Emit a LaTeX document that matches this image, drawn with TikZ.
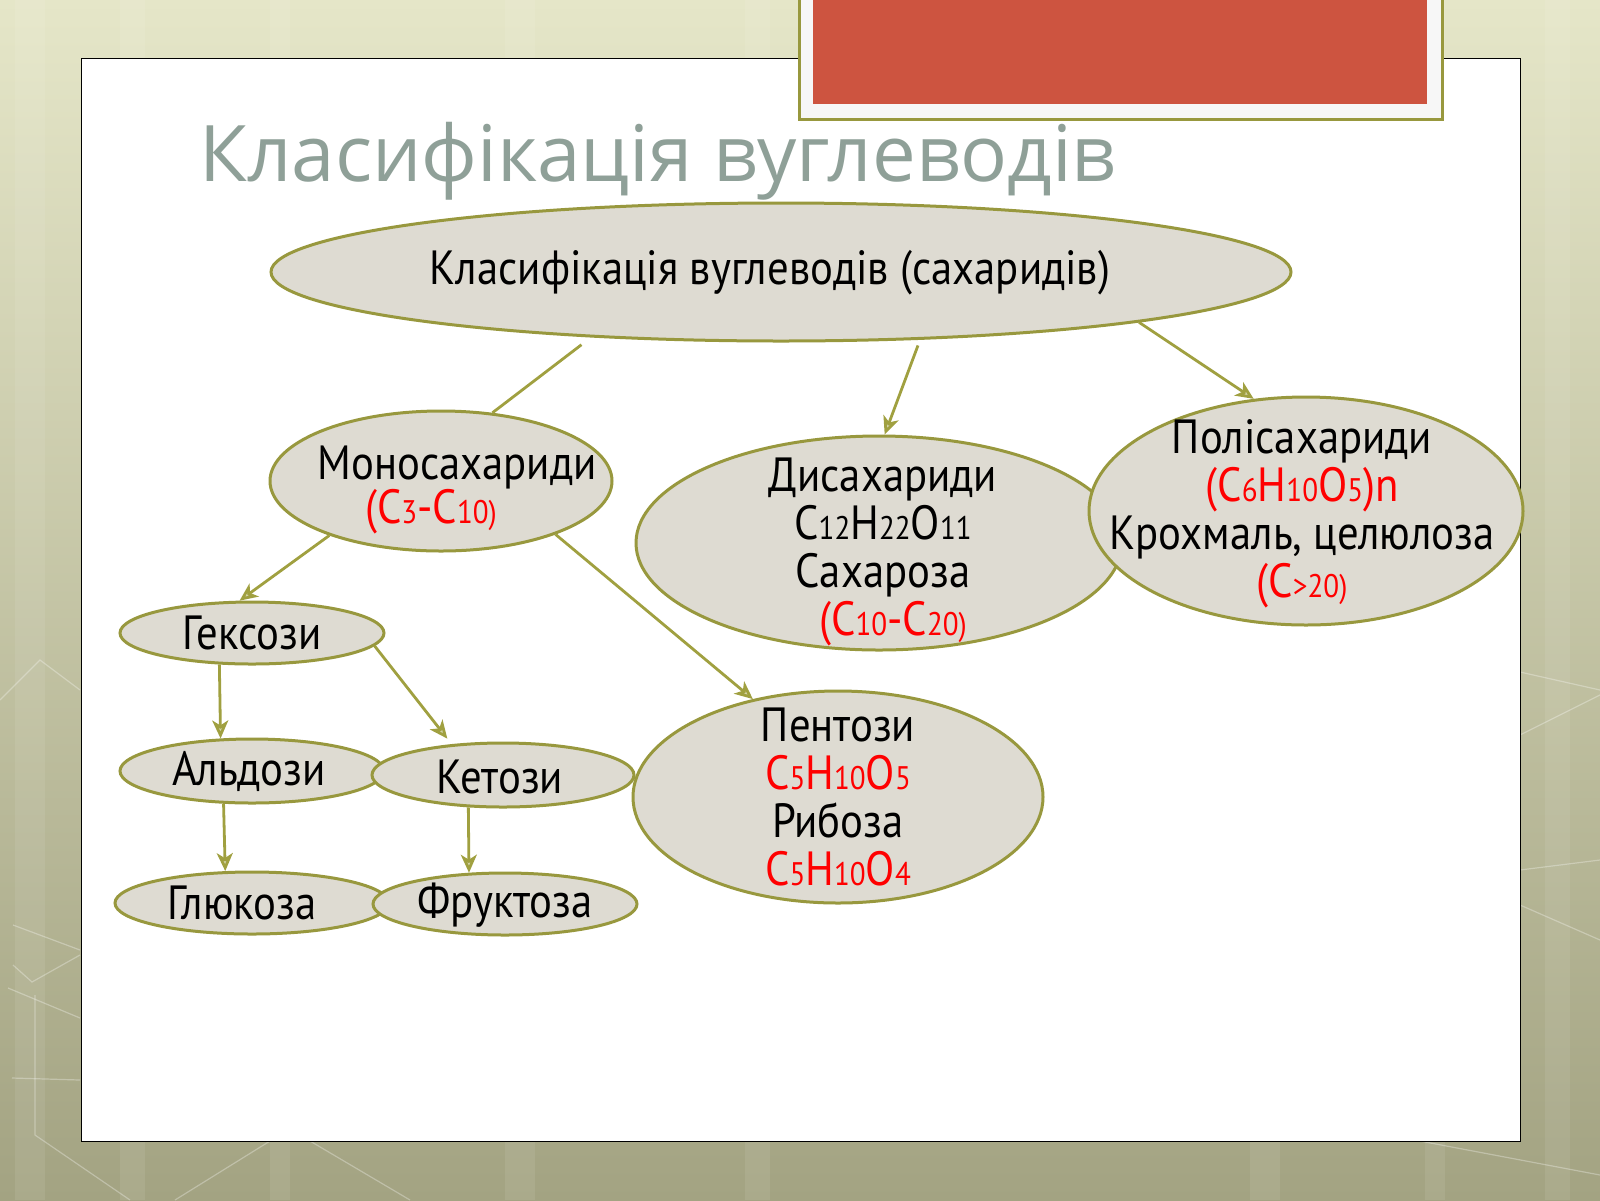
\documentclass[tikz,border=0pt]{standalone}
\usepackage{fontspec}
\setmainfont{PT Sans}[FakeStretch=0.89]
\newfontfamily\titlefont{Open Sans}
\usetikzlibrary{shapes.geometric,arrows.meta}

\definecolor{oliveline}{RGB}{152,152,62}
\definecolor{arrowline}{RGB}{160,160,64}
\definecolor{blobfill}{RGB}{222,219,210}
\definecolor{titlegray}{RGB}{143,160,152}
\definecolor{slidered}{RGB}{205,84,64}
\definecolor{bgtop}{RGB}{229,230,200}
\definecolor{bgmid}{RGB}{196,197,164}
\definecolor{bgbot}{RGB}{163,163,130}

\newcommand\sm[1]{\scalebox{0.68}{#1}}

\tikzset{
  blob/.style={ellipse, draw=oliveline, line width=1.5pt, fill=blobfill, inner sep=0pt},
  txt/.style={align=center, inner sep=0pt, font=\fontsize{24}{24}\selectfont},
  conn/.style={draw=arrowline, line width=1.4pt},
  link/.style={conn, -{Stealth[length=9pt,width=8pt,inset=2.5pt,fill=arrowline!45!white]}},
}

\begin{document}
\begin{tikzpicture}[x=0.5pt,y=-0.5pt]
\useasboundingbox (0,0) rectangle (1600,1200);
% background
\shade[top color=bgtop, middle color=bgmid, bottom color=bgbot] (0,0) rectangle (1600,1200);
\foreach \xs/\w in {15/30,120/25,270/20,505/30,745/25,1250/30,1425/20,1545/25}
  \fill[white,opacity=0.08] (\xs,0) rectangle ++(\w,1200);
\draw[white,opacity=0.3,line width=0.6pt] (13,925) -- (80,950);
\draw[white,opacity=0.3,line width=0.6pt] (13,965) -- (32,982) -- (80,955);
\draw[white,opacity=0.3,line width=0.6pt] (8,988) -- (80,1018);
\draw[white,opacity=0.3,line width=0.6pt] (35,995) -- (35,1135) -- (130,1200);
\draw[white,opacity=0.3,line width=0.6pt] (12,1078) -- (80,1080);
\draw[white,opacity=0.3,line width=0.6pt] (0,700) -- (40,660) -- (80,690);
\draw[white,opacity=0.3,line width=0.6pt] (270,1141) -- (175,1200);
\draw[white,opacity=0.3,line width=0.6pt] (310,1141) -- (410,1200);
\draw[white,opacity=0.3,line width=0.6pt] (1520,672) -- (1600,690);
\draw[white,opacity=0.3,line width=0.6pt] (1520,735) -- (1600,695);
\draw[white,opacity=0.3,line width=0.6pt] (1520,870) -- (1600,860);
\draw[white,opacity=0.3,line width=0.6pt] (1520,905) -- (1600,940);
\draw[white,opacity=0.3,line width=0.6pt] (1420,1141) -- (1600,1175);

% slide
\draw[black, line width=0.5pt, fill=white] (81,58) rectangle (1520,1141);
\draw[oliveline, line width=1.5pt, fill=white!94!gray] (799,-10) rectangle (1442,119);
\fill[slidered] (813,-10) rectangle (1427,104);

\node[anchor=base west, inner sep=0pt, text=titlegray,
  font=\titlefont\fontsize{39}{39}\selectfont] (title) at (199,181) {Класифікація вуглеводів};

% ellipses
\node[blob, minimum width=510pt, minimum height=69pt] (top) at (781,272) {};
\node[blob, minimum width=171pt, minimum height=70pt] (mono) at (441,481) {};
\node[blob, minimum width=243pt, minimum height=107pt] (di) at (879,543) {};
\node[blob, minimum width=217pt, minimum height=114pt] (poly) at (1306,511) {};
\node[blob, minimum width=132pt, minimum height=31pt] (hex) at (252,633) {};
\node[blob, minimum width=205pt, minimum height=106pt] (pento) at (838,797) {};
\node[blob, minimum width=132pt, minimum height=32pt] (ald) at (252,771) {};
\node[blob, minimum width=131pt, minimum height=32pt] (ket) at (503,775) {};
\node[blob, minimum width=137pt, minimum height=31pt] (glu) at (252,903) {};
\node[blob, minimum width=132pt, minimum height=31pt] (fru) at (505,904) {};

% texts
\node[txt] (toptext) at (770,273) {Класифікація вуглеводів (сахаридів)};
\node[txt] (monotext) at (445,490) {\hspace*{12pt}Моносахариди\\[-2pt]
  \textcolor{red}{(C\sm{3}-C\sm{10}\sm{)}}\hspace*{14pt}};
\node[txt] (ditext) at (883,552) {Дисахариди\\C\sm{12}H\sm{22}O\sm{11}\\Сахароза\\
  \hspace*{10pt}\textcolor{red}{(C\sm{10}-C\sm{20}\sm{)}}};
\node[txt] (polytext) at (1302,514) {Полісахариди\\\textcolor{red}{(C\sm{6}H\sm{10}O\sm{5})n}\\
  Крохмаль, целюлоза\\\textcolor{red}{(C\sm{>20}\sm{)}}};
\node[txt] (hextext) at (252,633) {Гексози};
\node[txt] (pentotext) at (838,797) {Пентози\\\textcolor{red}{C\sm{5}H\sm{10}O\sm{5}}\\
  Рибоза\\\textcolor{red}{C\sm{5}H\sm{10}O\sm{4}}};
\node[txt] (aldtext) at (249,771) {Альдози};
\node[txt] (kettext) at (500,777) {Кетози};
\node[txt] (glutext) at (242,903) {Глюкоза};
\node[txt] (frutext) at (505,905) {Фруктоза};

% connectors
\draw[conn, shorten <=6pt] (top.199) -- (mono.53);
\draw[link, shorten <=3pt] (top.334) -- (di.87);
\draw[link] (top.352) -- (poly.115);
\draw[link] (mono.206) -- (hex.111);
\draw[link] (mono.335) -- (pento.131);
\draw[link] (hex.224) -- (ald.134);
\draw[link, shorten >=3.5pt] (hex.354) -- (ket.149);
\draw[link] (ald.229) -- (glu.130);
\draw[link] (ket.223) -- (fru.139);
\end{tikzpicture}
\end{document}
